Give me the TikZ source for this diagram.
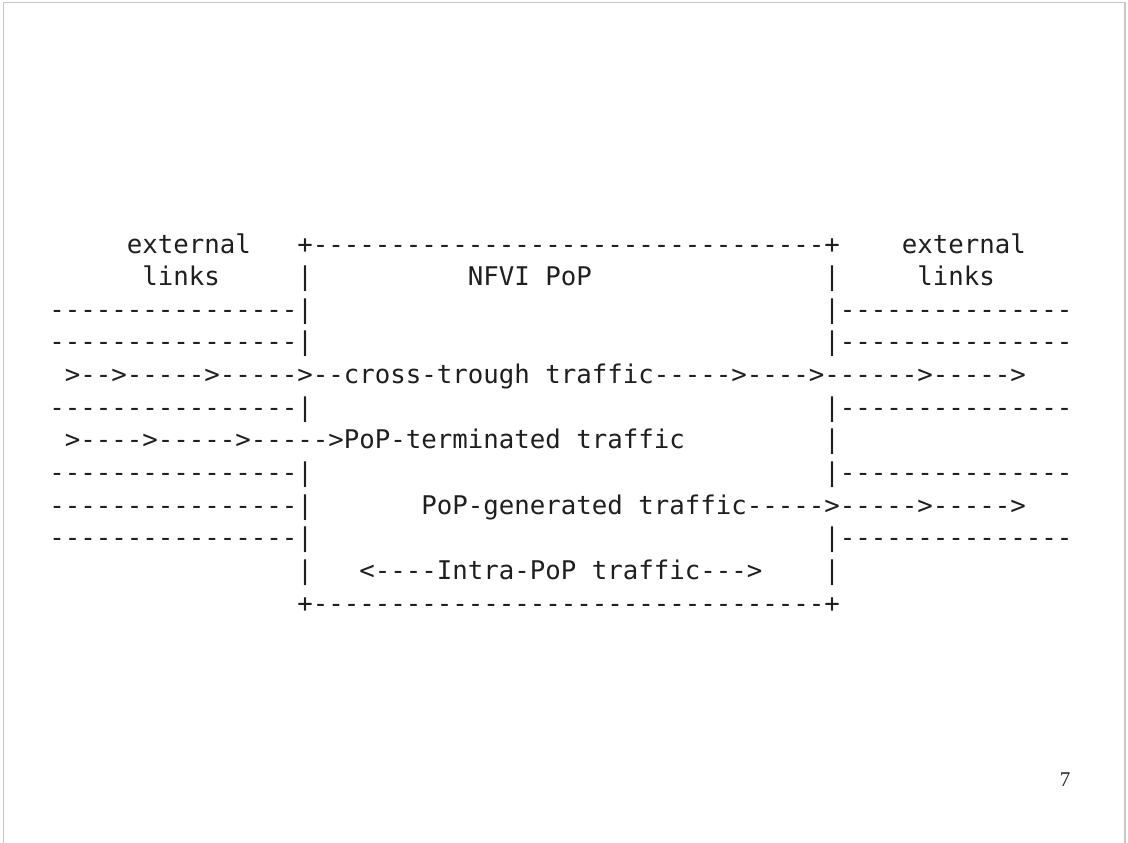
\documentclass[tikz,border=0pt]{standalone}
\usepackage{fontspec}
\setmonofont{DejaVu Sans Mono}
\newfontfamily\pnumfont{Liberation Serif}
\begin{document}
\begin{tikzpicture}[x=1pt,y=-1pt,
  asc/.style={anchor=base west,inner sep=0pt,outer sep=0pt,
    font=\ttfamily\fontsize{25.75pt}{30pt}\selectfont,text=black!88},
  frameline/.style={draw=black!22,line width=1.5pt}]
\useasboundingbox (0,0) rectangle (1128,843);
\draw[frameline] (3.5,850) -- (3.5,2.7) -- (1125,2.7) -- (1125,850);
\begin{scope}[shift={(49.25pt,-253pt)},x=15.5pt,y=-32.64pt]
% row 0
\node[asc] (extL) at (5,0) {external};
\node[asc] (boxtop) at (16,0) {+---------------------------------+};
\node[asc] (extR) at (55,0) {external};
% row 1
\node[asc] (linksL) at (6,1) {links};
\node[asc] (barL1) at (16,1) {|};
\node[asc] (pop) at (27,1) {NFVI PoP};
\node[asc] (barR1) at (50,1) {|};
\node[asc] (linksR) at (56,1) {links};
% row 2
\node[asc] (inL2) at (0,2) {----------------|};
\node[asc] (inR2) at (50,2) {|---------------};
% row 3
\node[asc] (inL3) at (0,3) {----------------|};
\node[asc] (inR3) at (50,3) {|---------------};
% row 4
\node[asc] (cross) at (1,4) {>-->----->----->--cross-trough traffic----->---->------>----->};
% row 5
\node[asc] (inL5) at (0,5) {----------------|};
\node[asc] (inR5) at (50,5) {|---------------};
% row 6
\node[asc] (term) at (1,6) {>---->----->----->PoP-terminated traffic};
\node[asc] (barR6) at (50,6) {|};
% row 7
\node[asc] (inL7) at (0,7) {----------------|};
\node[asc] (inR7) at (50,7) {|---------------};
% row 8
\node[asc] (inL8) at (0,8) {----------------|};
\node[asc] (gen) at (24,8) {PoP-generated traffic----->----->----->};
% row 9
\node[asc] (inL9) at (0,9) {----------------|};
\node[asc] (inR9) at (50,9) {|---------------};
% row 10
\node[asc] (barL10) at (16,10) {|};
\node[asc] (intra) at (20,10) {<----Intra-PoP traffic--->};
\node[asc] (barR10) at (50,10) {|};
% row 11
\node[asc] (boxbot) at (16,11) {+---------------------------------+};
\end{scope}
\node[font=\pnumfont\fontsize{21pt}{24pt}\selectfont,text=black!85,inner sep=0pt] (pagenum) at (1065,780) {7};
\end{tikzpicture}
\end{document}
